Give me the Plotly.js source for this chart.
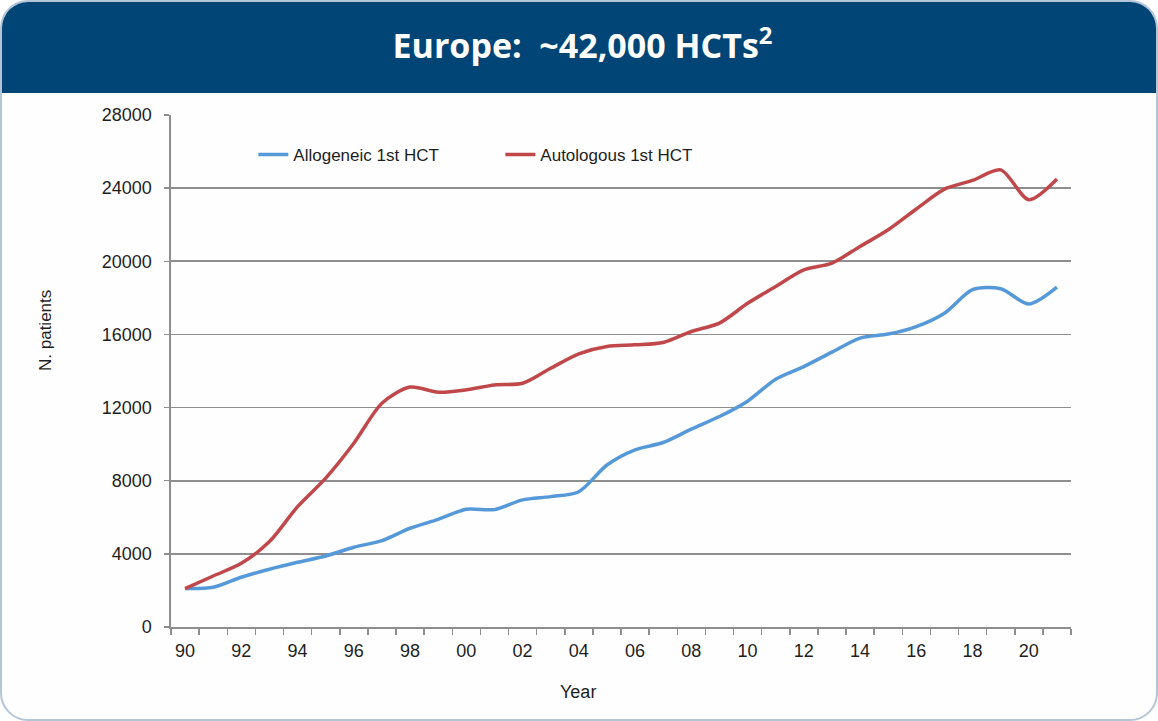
<!DOCTYPE html>
<html>
<head>
<meta charset="utf-8">
<script src="https://cdn.plot.ly/plotly-3.0.1.min.js"></script>
<style>
  html, body { margin: 0; padding: 0; width: 1158px; height: 721px; overflow: hidden; background: #ffffff; }
  #card {
    position: absolute; left: 0; top: 0; width: 1154px; height: 717px;
    border: 2px solid #b3c6d8; border-radius: 28px; background: #fefefe; overflow: hidden;
  }
  #banner { position: absolute; left: 0; top: 0; width: 100%; height: 91px; background: #004575; }
  #plot { position: absolute; left: 0; top: 0; width: 1158px; height: 721px; }
</style>
</head>
<body>
<div id="card"><div id="banner"></div></div>
<div id="plot"></div>
<script>
// years 1990..2021
const years = [1990, 1991, 1992, 1993, 1994, 1995, 1996, 1997, 1998, 1999,
               2000, 2001, 2002, 2003, 2004, 2005, 2006, 2007, 2008, 2009,
               2010, 2011, 2012, 2013, 2014, 2015, 2016, 2017, 2018, 2019,
               2020, 2021];

const allogeneic = [2100, 2170, 2720, 3160, 3540, 3880, 4360, 4720, 5400, 5890,
                    6440, 6420, 6950, 7130, 7400, 8860, 9690, 10090, 10820, 11510,
                    12350, 13550, 14240, 15030, 15800, 16020, 16430, 17160, 18450, 18500,
                    17670, 18590];

const autologous = [2100, 2790, 3480, 4670, 6580, 8140, 10050, 12240, 13120, 12840,
                    12970, 13240, 13330, 14150, 14940, 15340, 15430, 15560, 16160, 16620,
                    17700, 18620, 19530, 19900, 20810, 21720, 22860, 23950, 24420, 25000,
                    23370, 24500];

const tickYears = [1990, 1992, 1994, 1996, 1998, 2000, 2002, 2004, 2006, 2008,
                   2010, 2012, 2014, 2016, 2018, 2020];
const tickLabels = ['90', '92', '94', '96', '98', '00', '02', '04', '06', '08',
                    '10', '12', '14', '16', '18', '20'];
const boundaries = [];
for (let i = 0; i <= years.length; i++) boundaries.push(years[0] - 0.5 + i);

const FONT = 'Liberation Sans, Arial, sans-serif';
const GRID = '#8e8e8e';

let allo = {
    name: 'Allogeneic 1st HCT',
    x: years,
    y: allogeneic,
    type: 'scatter',
    mode: 'lines',
    line: { color: '#5599d8', width: 3.5, shape: 'spline', smoothing: 0.8 }
};

let auto = {
    name: 'Autologous 1st HCT',
    x: years,
    y: autologous,
    type: 'scatter',
    mode: 'lines',
    line: { color: '#c0474a', width: 3.5, shape: 'spline', smoothing: 0.8 }
};

let layout = {
    width: 1158,
    height: 721,
    paper_bgcolor: 'rgba(0,0,0,0)',
    plot_bgcolor: 'rgba(0,0,0,0)',
    margin: { l: 171, r: 87, t: 115, b: 94 },
    font: { family: FONT, size: 18, color: '#1e1e1e' },
    title: {
        text: '<b>Europe:  ~42,000 HCTs<sup>2</sup></b>',
        font: { family: 'Open Sans, Noto Sans, sans-serif', size: 34, color: '#ffffff' },
        x: 0.503, xanchor: 'center',
        yref: 'container', y: 1 - 46 / 721, yanchor: 'middle'
    },
    showlegend: true,
    legend: {
        orientation: 'h',
        x: 0.0915, xanchor: 'left',
        y: 0.922, yanchor: 'middle',
        font: { family: FONT, size: 17, color: '#1e1e1e' },
        bgcolor: 'rgba(0,0,0,0)',
        entrywidth: 202
    },
    xaxis: {
        range: [1989.5, 2021.5],
        tickmode: 'array',
        tickvals: tickYears,
        ticktext: tickLabels,
        ticks: '',
        ticklabelstandoff: 7,
        showgrid: false,
        zeroline: false,
        showline: true,
        linecolor: GRID,
        linewidth: 1.5,
        minor: { tickmode: 'array', tickvals: boundaries, ticks: 'outside', ticklen: 6,
                 tickcolor: GRID, tickwidth: 1.5, showgrid: false },
        fixedrange: true
    },
    yaxis: {
        range: [0, 28000],
        tickmode: 'linear',
        tick0: 0,
        dtick: 4000,
        tickformat: 'd',
        ticks: 'outside',
        ticklen: 5,
        tickcolor: GRID,
        tickwidth: 1.5,
        ticklabelstandoff: 9,
        showgrid: true,
        gridcolor: GRID,
        gridwidth: 1.7,
        zeroline: false,
        showline: true,
        linecolor: GRID,
        linewidth: 1.7,
        fixedrange: true
    },
    annotations: [
        { text: 'N. patients', textangle: -90, xref: 'paper', yref: 'paper',
          x: (45 - 171) / 900, y: (627 - 330) / 512, showarrow: false,
          xanchor: 'center', yanchor: 'middle', font: { family: FONT, size: 17, color: '#1e1e1e' } },
        { text: 'Year', xref: 'paper', yref: 'paper',
          x: (578 - 171) / 900, y: (627 - 692) / 512, showarrow: false,
          xanchor: 'center', yanchor: 'middle', font: { family: FONT, size: 18, color: '#1e1e1e' } }
    ]
};

Plotly.newPlot(document.getElementById('plot'), [allo, auto], layout, { displayModeBar: false, staticPlot: true });
</script>
</body>
</html>
